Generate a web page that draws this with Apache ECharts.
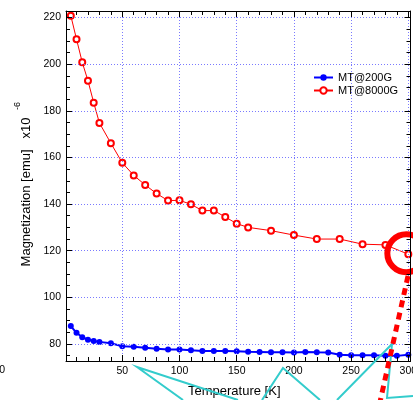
<!DOCTYPE html>
<html>
<head>
<meta charset="utf-8">
<script src="https://cdn.jsdelivr.net/npm/echarts@6/dist/echarts.min.js"></script>
<style>
html,body{margin:0;padding:0;background:#fff;}
#chart{width:413px;height:400px;}
</style>
</head>
<body>
<div id="chart"></div>
<script>
// ---- data ----
const seriesNames = ['MT@200G', 'MT@8000G'];
const temps200 = [5,10,15,20,25,30,40,50,60,70,80,90,100,110,120,130,140,150,160,170,180,190,200,210,220,230,240,250,260,270,280,290,300];
const mag200 = [87.7,84.8,82.9,81.8,81.3,80.9,80.3,79.0,78.8,78.4,78.0,77.6,77.6,77.3,77.0,77.0,77.0,76.9,76.7,76.6,76.5,76.4,76.3,76.6,76.4,76.3,75.4,75.2,75.2,75.2,75.0,74.9,75.4];
const temps8000 = [5,10,15,20,25,30,40,50,60,70,80,90,100,110,120,130,140,150,160,180,200,220,240,260,280,300];
const mag8000 = [220.8,210.7,200.8,192.9,183.5,174.8,166.1,157.7,152.3,148.2,144.5,141.5,141.6,139.9,137.2,137.2,134.5,131.6,130.0,128.6,126.7,125.0,125.0,122.8,122.5,118.5];
const highlightPoint = [300, 118.5];
const xTitle = 'Temperature [K]';
const yTitle = 'Magnetization [emu]   x10';
const yExponent = '-6';
const strayLabel = '0';

const FONT = '"Liberation Sans", Arial, sans-serif';
const xMin = 0.8, xMax = 301.9, yMin = 72.7, yMax = 222.8;

function pairs(xs, ys) { return xs.map((x, i) => [x, ys[i]]); }

const chart = echarts.init(document.getElementById('chart'), null, {renderer: 'canvas'});

function makeAxis(kind, position, showLabels, extra) {
  const base = {
    type: 'value',
    position: position,
    min: kind === 'x' ? xMin : yMin,
    max: kind === 'x' ? xMax : yMax,
    splitNumber: kind === 'x' ? 6 : 7,
    axisLine: {show: true, onZero: false, lineStyle: {color: '#000', width: 1}},
    axisTick: {show: true, inside: true, length: 6, lineStyle: {color: '#000', width: 1}},
    minorTick: {show: true, splitNumber: kind === 'x' ? 5 : 4, length: 4, lineStyle: {color: '#000', width: 1}},
    axisLabel: {
      show: showLabels, showMinLabel: false, showMaxLabel: false,
      color: '#000', fontSize: 10.5, fontFamily: FONT, margin: 5
    },
    splitLine: {show: false},
    z: 5
  };
  return Object.assign(base, extra || {});
}

const gridLine = {show: true, showMinLine: false, showMaxLine: false,
  lineStyle: {color: '#7a7aff', type: [1, 2], width: 1}};

const option = {
  animation: false,
  backgroundColor: '#fff',
  grid: {left: 66, right: 2.5, top: 11, bottom: 39, containLabel: false, outerBoundsMode: 'none'},
  legend: {
    orient: 'vertical', left: 313, top: 72, padding: 0,
    itemWidth: 19, itemHeight: 8, itemGap: 2,
    textStyle: {fontSize: 11, fontFamily: FONT, color: '#000'},
    data: seriesNames
  },
  xAxis: [
    makeAxis('x', 'bottom', true, {
      name: xTitle, nameLocation: 'middle', nameGap: 24,
      nameTextStyle: {fontSize: 13, fontFamily: FONT, color: '#000', padding: [0, 8, 0, 0]},
      splitLine: gridLine
    }),
    makeAxis('x', 'top', false)
  ],
  yAxis: [
    makeAxis('y', 'left', true, {splitLine: gridLine}),
    makeAxis('y', 'right', false)
  ],
  series: [
    {
      name: seriesNames[0], type: 'line', data: pairs(temps200, mag200),
      symbol: 'circle', symbolSize: 6, color: '#0000ff',
      lineStyle: {color: '#0000ff', width: 2},
      itemStyle: {color: '#0000ff'}, z: 3
    },
    {
      name: seriesNames[1], type: 'line', data: pairs(temps8000, mag8000),
      symbol: 'emptyCircle', symbolSize: 6, color: '#ff0000',
      lineStyle: {color: '#ff0000', width: 1},
      itemStyle: {color: '#ff0000', borderColor: '#ff0000', borderWidth: 1}, z: 3,
      markPoint: {
        silent: true,
        data: [{
          coord: highlightPoint, symbol: 'circle', symbolSize: 38, symbolOffset: [-2, -1],
          itemStyle: {color: 'rgba(0,0,0,0)', borderColor: '#ff0000', borderWidth: 6},
          label: {show: false}
        }]
      }
    }
  ],
  graphic: [
    {type: 'text', x: 26, y: 192, rotation: Math.PI / 2, z: 50,
      style: {text: yTitle, fontSize: 13, fontFamily: FONT, fill: '#000', align: 'center', verticalAlign: 'middle'}},
    {type: 'text', x: 17.5, y: 106, rotation: Math.PI / 2, z: 50,
      style: {text: yExponent, fontSize: 9, fontFamily: FONT, fill: '#000', align: 'center', verticalAlign: 'middle'}},
    {type: 'text', x: 5, y: 370, z: 50,
      style: {text: strayLabel, fontSize: 10.5, fontFamily: FONT, fill: '#000', align: 'right', verticalAlign: 'middle'}},
    {type: 'polyline', z: 100, shape: {points: [[183, 400], [137, 367], [238, 400]]},
      style: {stroke: '#33cccc', lineWidth: 2, fill: null}},
    {type: 'polyline', z: 100, shape: {points: [[262, 400], [283, 368], [320, 400]]},
      style: {stroke: '#33cccc', lineWidth: 2, fill: null}},
    {type: 'polyline', z: 100, shape: {points: [[337, 400], [392, 344], [387, 398], [413, 396]]},
      style: {stroke: '#33cccc', lineWidth: 2, fill: null}},
    {type: 'line', z: 101, shape: {x1: 408, y1: 276, x2: 380, y2: 402},
      style: {stroke: '#ff0000', lineWidth: 5, lineDash: [7, 5.5]}}
  ]
};
chart.setOption(option);
</script>
</body>
</html>
